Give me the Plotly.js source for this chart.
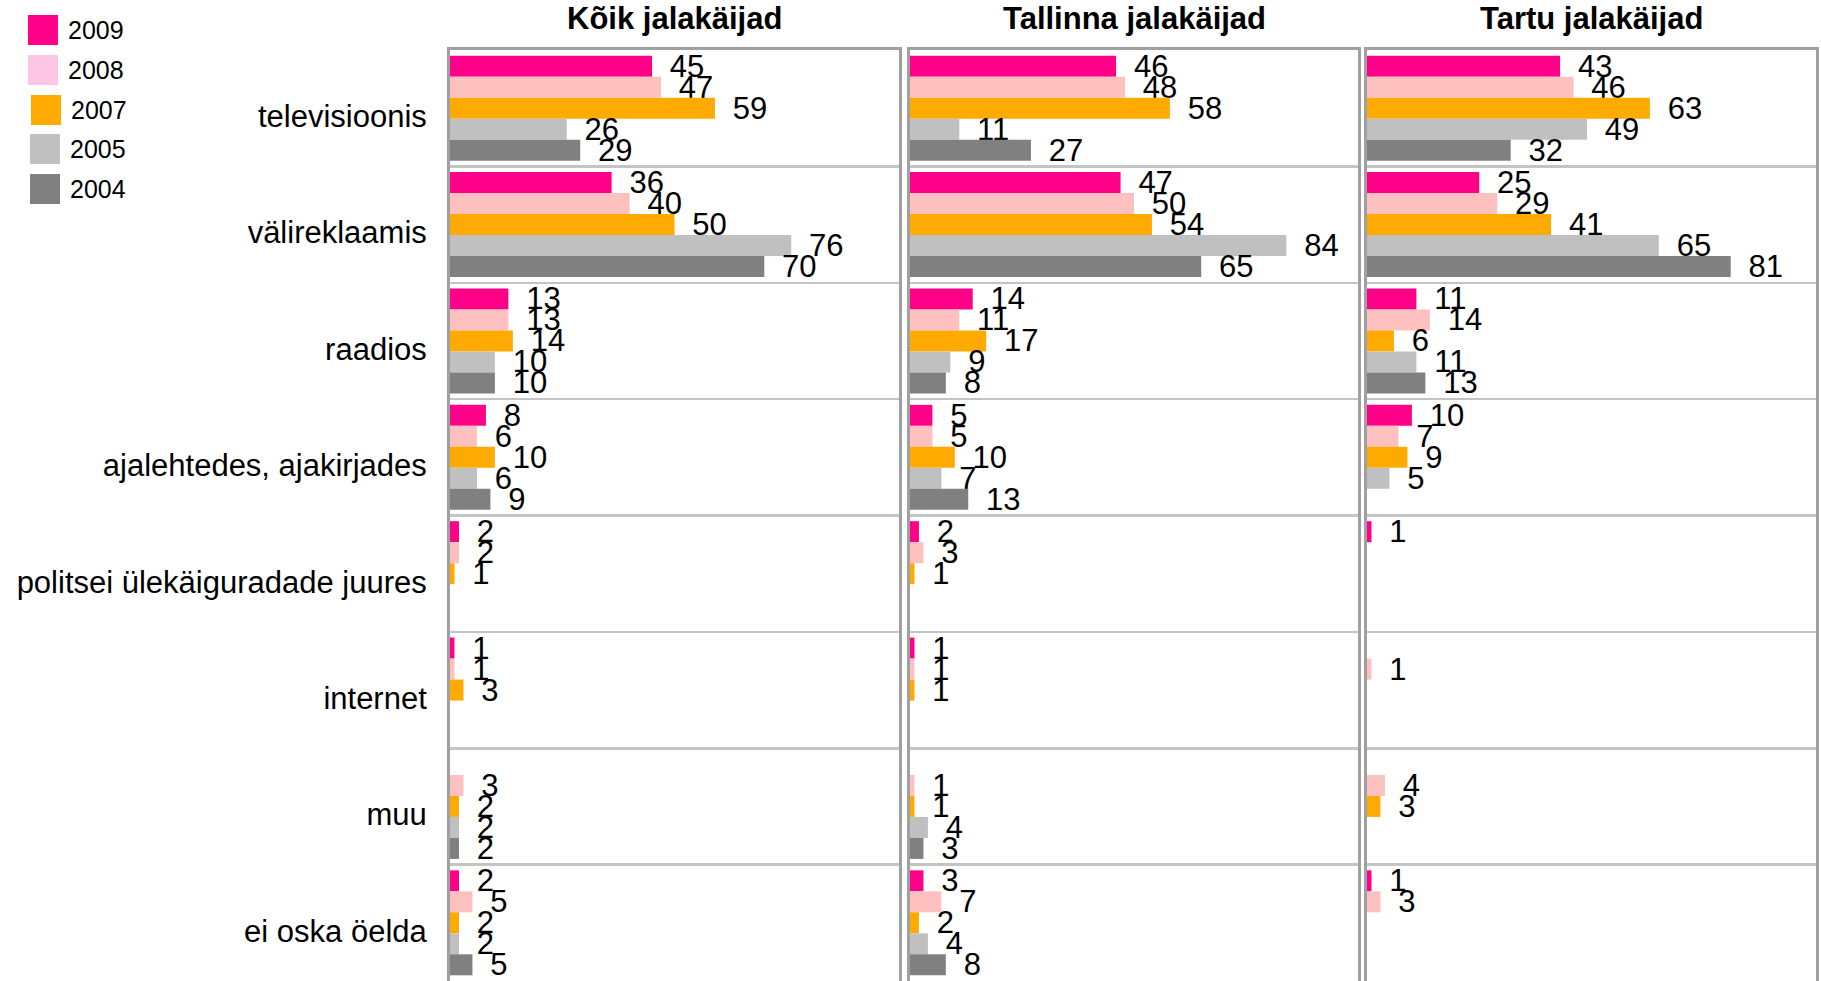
<!DOCTYPE html>
<html>
<head>
<meta charset="utf-8">
<script src="https://cdn.plot.ly/plotly-3.0.1.min.js"></script>
<style>html,body{margin:0;padding:0;background:#fff;}#chart{width:1821px;height:981px;}</style>
</head>
<body>
<div id="chart"></div>
<script>
// ---- data ----
const categories = ['televisioonis', 'välireklaamis', 'raadios', 'ajalehtedes, ajakirjades',
  'politsei ülekäiguradade juures', 'internet', 'muu', 'ei oska öelda'];
const years = ['2009', '2008', '2007', '2005', '2004'];
const panelTitles = ['Kõik jalakäijad', 'Tallinna jalakäijad', 'Tartu jalakäijad'];

const koik2009 = [45, 36, 13, 8, 2, 1, null, 2];
const koik2008 = [47, 40, 13, 6, 2, 1, 3, 5];
const koik2007 = [59, 50, 14, 10, 1, 3, 2, 2];
const koik2005 = [26, 76, 10, 6, null, null, 2, 2];
const koik2004 = [29, 70, 10, 9, null, null, 2, 5];

const tallinn2009 = [46, 47, 14, 5, 2, 1, null, 3];
const tallinn2008 = [48, 50, 11, 5, 3, 1, 1, 7];
const tallinn2007 = [58, 54, 17, 10, 1, 1, 1, 2];
const tallinn2005 = [11, 84, 9, 7, null, null, 4, 4];
const tallinn2004 = [27, 65, 8, 13, null, null, 3, 8];

const tartu2009 = [43, 25, 11, 10, 1, null, null, 1];
const tartu2008 = [46, 29, 14, 7, null, 1, 4, 3];
const tartu2007 = [63, 41, 6, 9, null, null, 3, null];
const tartu2005 = [49, 65, 11, 5, null, null, null, null];
const tartu2004 = [32, 81, 13, null, null, null, null, null];

// ---- styles ----
const barColors = ['#ff0088', '#ffc0c0', '#ffaa00', '#c0c0c0', '#808080'];
const legendColors = ['#ff0088', '#fdc6e4', '#ffaa00', '#c0c0c0', '#808080'];
const FONT = 'Liberation Sans, Arial, sans-serif';
const W = 1821, H = 981;
const TOP = 50;

const panelValues = [
  [koik2009, koik2008, koik2007, koik2005, koik2004],
  [tallinn2009, tallinn2008, tallinn2007, tallinn2005, tallinn2004],
  [tartu2009, tartu2008, tartu2007, tartu2005, tartu2004]
];
const panelPx = [[450, 899], [910, 1358], [1367, 1816]];

const traces = [];
panelValues.forEach((vals, pi) => {
  const sfx = pi === 0 ? '' : String(pi + 1);
  years.forEach((yr, yi) => {
    traces.push({
      type: 'bar', orientation: 'h', name: yr,
      x: vals[yi], y: categories,
      xaxis: 'x' + sfx, yaxis: 'y' + sfx,
      marker: {color: barColors[yi], line: {width: 0}},
      texttemplate: '\u00a0\u2009%{x}', textposition: 'outside',
      constraintext: 'none', cliponaxis: false,
      textfont: {family: FONT, size: 31, color: '#000'},
      showlegend: false, hoverinfo: 'x+name'
    });
  });
});

const yDomain = [0, 1 - TOP / H];
const layout = {
  width: W, height: H,
  margin: {l: 0, r: 0, t: 0, b: 0},
  paper_bgcolor: '#fff', plot_bgcolor: '#fff',
  barmode: 'group', bargap: 0.098, bargroupgap: 0,
  font: {family: FONT, color: '#000'},
  showlegend: false,
  annotations: [], shapes: []
};

panelPx.forEach((px, pi) => {
  const sfx = pi === 0 ? '' : String(pi + 1);
  layout['xaxis' + sfx] = {
    domain: [px[0] / W, px[1] / W], range: [0, 100], anchor: 'y' + sfx,
    showticklabels: false, showgrid: false, zeroline: false, ticks: '',
    showline: true, mirror: true, linecolor: '#a0a0a0', linewidth: 3
  };
  layout['yaxis' + sfx] = {
    domain: yDomain, anchor: 'x' + sfx, type: 'category',
    categoryorder: 'array', categoryarray: categories,
    range: [categories.length - 0.5, -0.5],
    tickson: 'boundaries', showgrid: true, gridcolor: '#c4c4c4', gridwidth: 2.5,
    zeroline: false, ticks: '',
    showline: true, mirror: true, linecolor: '#a0a0a0', linewidth: 3,
    showticklabels: pi === 0,
    tickfont: {family: FONT, size: 31, color: '#000'},
    ticklabelstandoff: 14, ticklabelshift: -8
  };
  layout.annotations.push({
    text: '<b>' + panelTitles[pi] + '</b>', xref: 'paper', yref: 'paper',
    x: (px[0] + px[1]) / 2 / W, y: 1 - 18 / H, xanchor: 'center', yanchor: 'middle',
    showarrow: false, font: {family: FONT, size: 31, color: '#000'}
  });
});

// manual legend
const legendTops = [15, 55, 95, 134, 174];
const legendX = [28, 28, 31, 30, 30];
years.forEach((yr, i) => {
  const top = legendTops[i], x0 = legendX[i];
  layout.shapes.push({
    type: 'rect', xref: 'paper', yref: 'paper',
    x0: x0 / W, x1: (x0 + 30) / W, y0: 1 - top / H, y1: 1 - (top + 30) / H,
    fillcolor: legendColors[i], line: {width: 0}
  });
  layout.annotations.push({
    text: yr, xref: 'paper', yref: 'paper',
    x: (x0 + 38) / W, y: 1 - (top + 15) / H, xanchor: 'left', yanchor: 'middle',
    showarrow: false, font: {family: FONT, size: 25, color: '#000'}
  });
});

Plotly.newPlot('chart', traces, layout, {staticPlot: true});
</script>
</body>
</html>
